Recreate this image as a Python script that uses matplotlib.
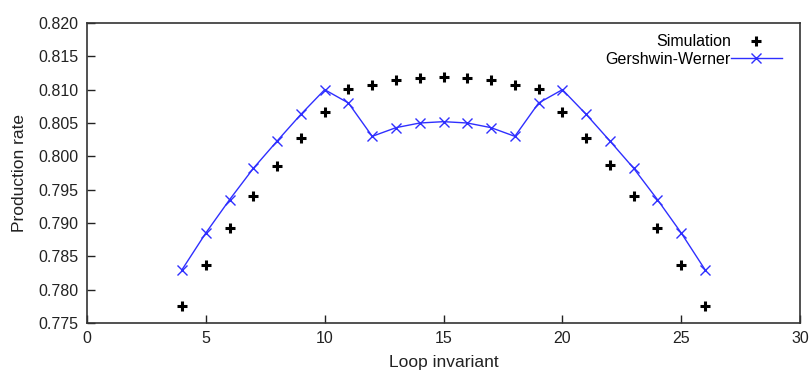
import matplotlib
matplotlib.use('Agg')
from matplotlib import pyplot as plt

plt.rcParams['font.family'] = ['Liberation Sans', 'DejaVu Sans']

# loop invariant values
loop_inv = list(range(4, 27))

# simulation results
simulation = [0.7775, 0.7837, 0.7893, 0.7941, 0.7986, 0.8028, 0.8067, 0.8101,
              0.8107, 0.8114, 0.8117, 0.8119, 0.8117, 0.8114, 0.8107, 0.8101,
              0.8067, 0.8027, 0.7987, 0.7941, 0.7893, 0.7837, 0.7775]

# Gershwin-Werner approximation
gw = [0.7830, 0.7885, 0.7935, 0.7982, 0.8023, 0.8063, 0.8100, 0.8080,
      0.8030, 0.8043, 0.8050, 0.8052, 0.8050, 0.8043, 0.8030, 0.8080,
      0.8100, 0.8063, 0.8023, 0.7982, 0.7935, 0.7885, 0.7830]

fig = plt.figure(figsize=(8.09, 3.74), dpi=100)
ax = fig.add_axes([0.1075, 0.1364, 0.8815, 0.8021])

ax.plot(loop_inv, simulation, linestyle='none', marker='+', color='black',
        markersize=7, markeredgewidth=2.2, label='Simulation')
ax.plot(loop_inv, gw, color='#2f2fff', linewidth=1, marker='x',
        markersize=6.5, markeredgewidth=1, label='Gershwin-Werner')

ax.set_xlim(0, 30)
ax.set_ylim(0.775, 0.820)
ax.set_xticks([0, 5, 10, 15, 20, 25, 30])
ax.set_yticks([0.775, 0.780, 0.785, 0.790, 0.795, 0.800, 0.805, 0.810, 0.815, 0.820])
ax.set_yticklabels(['%.3f' % v for v in ax.get_yticks()])
ax.tick_params(direction='in', length=6, width=1, labelsize=11.5, colors='#222222',
               top=False, right=False, pad=6)
for s in ax.spines.values():
    s.set_linewidth(1.2)
    s.set_color('#333333')

ax.set_xlabel('Loop invariant', fontsize=12.5, color='#222222', labelpad=6)
ax.set_ylabel('Production rate', fontsize=12.5, color='#222222', labelpad=8)

ax.legend(loc='upper right', frameon=False, markerfirst=False, fontsize=11.5,
          handlelength=3.2, handletextpad=0.0, labelspacing=0.15,
          borderaxespad=0.3, bbox_to_anchor=(0.99, 1.0))

fig.savefig('out.png', dpi=100)
